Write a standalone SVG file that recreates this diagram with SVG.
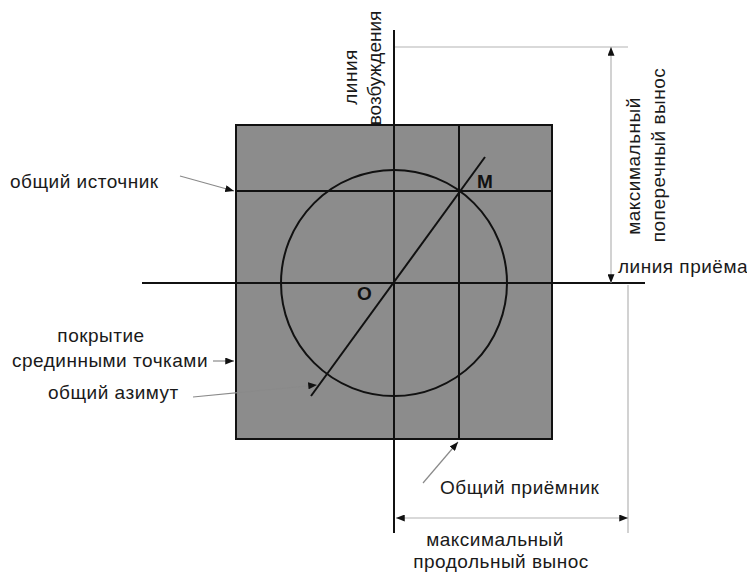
<svg xmlns="http://www.w3.org/2000/svg" width="747" height="572" viewBox="0 0 747 572">
  <style>
    .lbl { font-family: "Liberation Sans", Arial, sans-serif; font-size: 19px; letter-spacing: 0.5px; fill: #1a1a1a; }
    .tight { letter-spacing: 0; }
    .pt { font-family: "Liberation Sans", Arial, sans-serif; font-size: 19px; font-weight: bold; fill: #111; }
    .heavy { stroke: #111; stroke-width: 2; fill: none; }
    .ext { stroke: #b4b4b4; stroke-width: 1.2; fill: none; }
    .lead { stroke: #8a8a8a; stroke-width: 1.2; fill: none; }
  </style>
  <defs>
    <marker id="tip" viewBox="0 0 10 8" refX="10" refY="4" markerWidth="9" markerHeight="7" markerUnits="userSpaceOnUse" orient="auto-start-reverse">
      <path d="M0,0 L10,4 L0,8 Z" fill="#111"/>
    </marker>
  </defs>
  <rect width="747" height="572" fill="#fff"/>

  <!-- midpoint coverage area -->
  <g id="coverage">
    <rect x="236" y="125" width="316" height="314" fill="#8c8c8c" stroke="#111" stroke-width="2"/>
  </g>

  <g id="connectors">
    <!-- source and receiver lines -->
    <line class="heavy" x1="394" y1="30" x2="394" y2="533"/>
    <line class="heavy" x1="142" y1="283" x2="645" y2="283"/>
    <!-- common source / common receiver through M -->
    <line class="heavy" x1="236" y1="191" x2="552" y2="191"/>
    <line class="heavy" x1="459" y1="125" x2="459" y2="439"/>
    <!-- offset circle and common azimuth -->
    <circle class="heavy" cx="394" cy="283" r="113"/>
    <line class="heavy" x1="311" y1="396" x2="485" y2="157"/>

    <!-- dimension extension lines -->
    <line class="ext" x1="395" y1="47" x2="628" y2="47"/>
    <line class="ext" x1="628" y1="285" x2="628" y2="533"/>
    <!-- dimension lines -->
    <line class="ext" x1="611" y1="47" x2="611" y2="283" marker-start="url(#tip)" marker-end="url(#tip)"/>
    <line class="ext" x1="396" y1="518" x2="628" y2="518" marker-start="url(#tip)" marker-end="url(#tip)"/>

    <!-- label leaders -->
    <line class="lead" x1="180" y1="176" x2="234" y2="191" marker-end="url(#tip)"/>
    <line class="lead" x1="213" y1="361" x2="234" y2="361" marker-end="url(#tip)"/>
    <line class="lead" x1="193" y1="397" x2="317" y2="385" marker-end="url(#tip)"/>
    <line class="lead" x1="423" y1="483" x2="458" y2="442" marker-end="url(#tip)"/>
  </g>

  <g id="point-O"><text class="pt" x="357" y="300">O</text></g>
  <g id="point-M"><text class="pt" x="477" y="188">M</text></g>

  <g id="label-excitation">
    <text class="lbl" text-anchor="middle" transform="translate(357,77) rotate(-90)">линия</text>
    <text class="lbl tight" text-anchor="middle" transform="translate(381,68) rotate(-90)">возбуждения</text>
  </g>

  <g id="label-crossline">
    <text class="lbl" text-anchor="middle" transform="translate(640,166) rotate(-90)">максимальный</text>
    <text class="lbl" text-anchor="middle" transform="translate(665,155) rotate(-90)">поперечный вынос</text>
  </g>

  <g id="label-receiver-line"><text class="lbl" x="618" y="273">линия приёма</text></g>
  <g id="label-common-source"><text class="lbl" x="10" y="188">общий источник</text></g>
  <g id="label-coverage">
    <text class="lbl" text-anchor="middle" x="101" y="342">покрытие</text>
    <text class="lbl" x="12" y="367">срединными точками</text>
  </g>
  <g id="label-common-azimuth"><text class="lbl" x="48" y="399">общий азимут</text></g>
  <g id="label-common-receiver"><text class="lbl" x="440" y="494">Общий приёмник</text></g>
  <g id="label-inline">
    <text class="lbl" text-anchor="middle" x="495" y="546">максимальный</text>
    <text class="lbl" text-anchor="middle" x="501" y="568">продольный вынос</text>
  </g>
</svg>
